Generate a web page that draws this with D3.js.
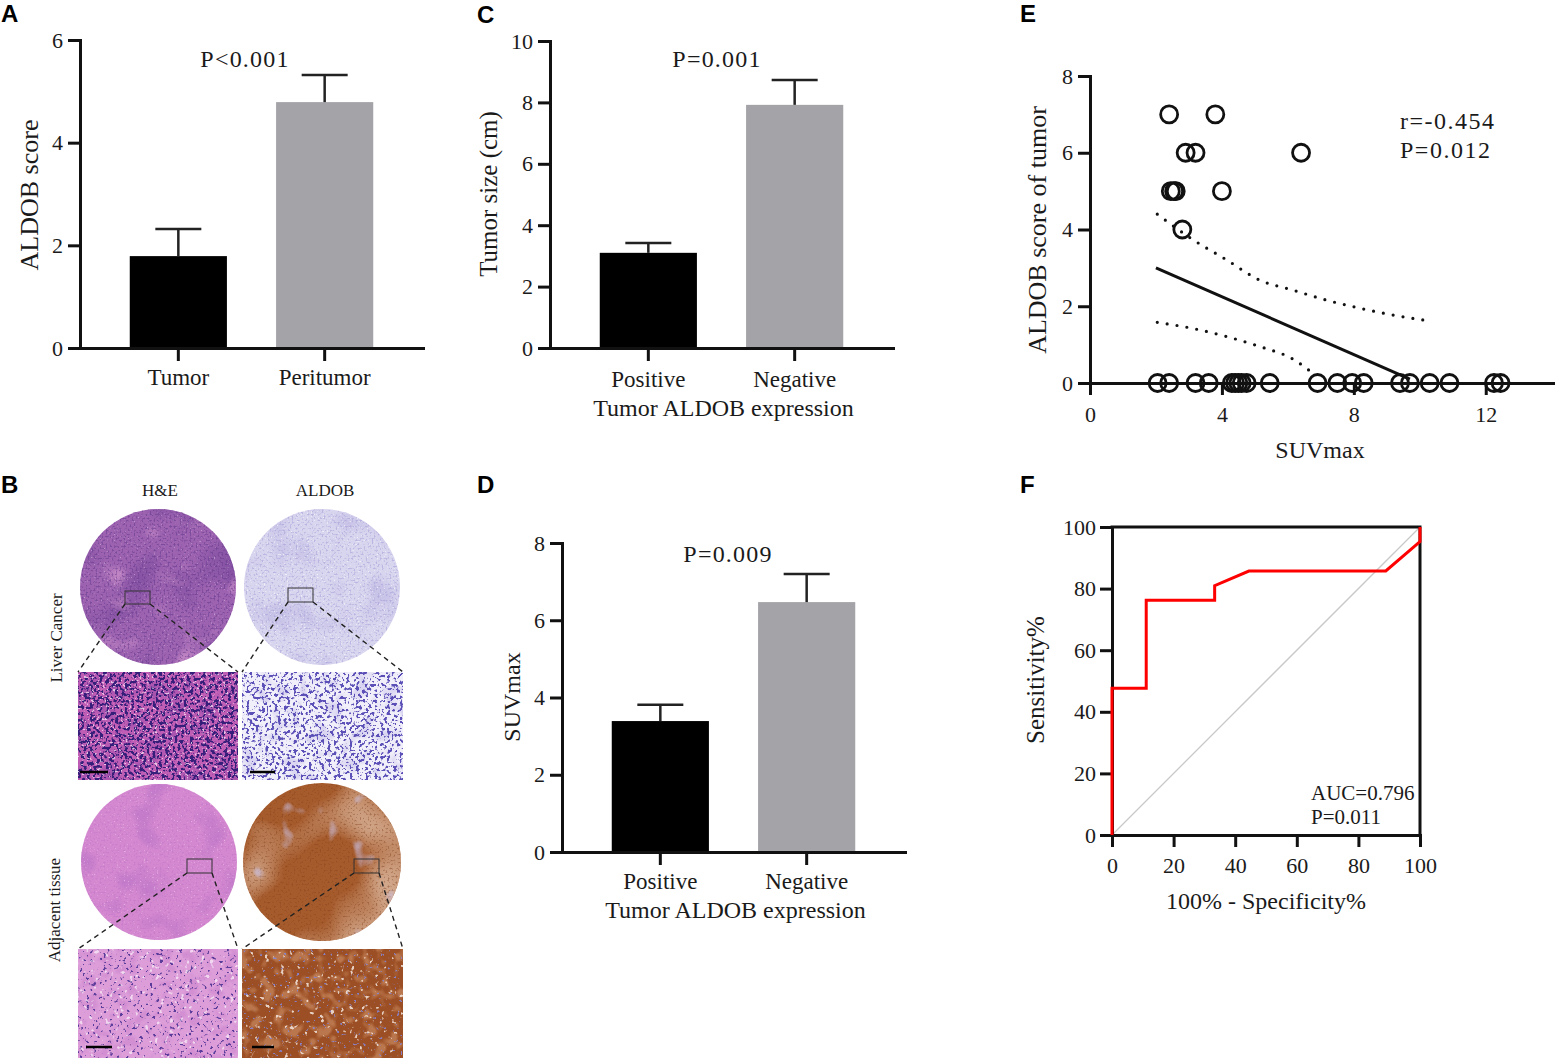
<!DOCTYPE html>
<html>
<head>
<meta charset="utf-8">
<script src="https://cdn.jsdelivr.net/npm/d3@7"></script>
<style>
  html, body { margin: 0; padding: 0; background: #fff; }
  svg text { font-family: "Liberation Serif", "Times New Roman", serif; fill: #1a1a1a; }
  .panel-label { font-family: "Liberation Sans", Arial, sans-serif; font-weight: bold; font-size: 24px; fill: #000; }
</style>
</head>
<body>
<svg id="fig" width="1555" height="1058"></svg>
<script>
// values
const groupsA = ["Tumor", "Peritumor"];
const meanA = [1.79, 4.79];
const semA = [0.53, 0.53];
const ticksA = [0, 2, 4, 6];

const groupsExpr = ["Positive", "Negative"];
const meanC = [3.1, 7.92];
const semC = [0.32, 0.81];
const ticksC = [0, 2, 4, 6, 8, 10];

const meanD = [3.39, 6.47];
const semD = [0.42, 0.73];
const ticksD = [0, 2, 4, 6, 8];

// panel E: SUVmax vs ALDOB score of tumor
const suvmax = [2.4, 3.8, 2.9, 3.2, 6.4, 2.45, 2.55, 2.6, 4.0, 2.8,
  2.05, 2.4, 3.2, 3.6, 4.3, 4.4, 4.5, 4.6, 4.75, 5.45, 6.9, 7.5, 7.95, 8.3, 9.4, 9.7, 10.3, 10.9, 12.25, 12.45];
const scoreE = [7, 7, 6, 6, 6, 5, 5, 5, 5, 4,
  0, 0, 0, 0, 0, 0, 0, 0, 0, 0, 0, 0, 0, 0, 0, 0, 0, 0, 0, 0];
const fitX = [2.0, 9.7];
const fitY = [3.0, 0.1];
const upperX = [2.04, 3.13, 4.14, 5.15, 6.16, 7.17, 8.18, 9.19, 10.28];
const upperY = [4.40, 3.73, 3.21, 2.68, 2.42, 2.16, 1.95, 1.77, 1.62];
const lowerX = [2.04, 3.13, 4.14, 5.15, 6.16, 6.82];
const lowerY = [1.58, 1.42, 1.21, 0.95, 0.62, 0.21];
const ticksEx = [0, 4, 8, 12];
const ticksEy = [0, 2, 4, 6, 8];

// panel F: ROC
const rocFpr = [0, 0, 11.11, 11.11, 33.33, 33.33, 44.44, 88.89, 100, 100];
const rocTpr = [0, 47.62, 47.62, 76.19, 76.19, 80.95, 85.71, 85.71, 95.24, 100];
const ticksF = [0, 20, 40, 60, 80, 100];

// panel B
const stains = ["H&E", "ALDOB"];
const tissues = ["Liver Cancer", "Adjacent tissue"];

const svg = d3.select("#fig");
const defs = svg.append("defs");
const fmt = d3.format("d");

function styleAxis(g, fs) {
  g.attr("font-family", null).attr("font-size", null);
  g.select(".domain").attr("stroke", "#111").attr("stroke-width", 3).attr("stroke-linecap", "square");
  g.selectAll(".tick line").attr("stroke", "#111").attr("stroke-width", 3);
  g.selectAll(".tick text").attr("font-size", fs || 22).attr("fill", "#222");
}

function yTitle(x, y, txt, fs) {
  svg.append("text")
    .attr("transform", "translate(" + x + "," + y + ") rotate(-90)")
    .attr("text-anchor", "middle")
    .attr("font-size", fs)
    .text(txt);
}

function drawBarPanel(p) {
  const g = svg.append("g");
  const y = d3.scaleLinear().domain([0, p.yMax]).range([p.bottom, p.top]);
  const x = d3.scaleBand().domain(p.groups).range([p.left, p.right]).paddingInner(0.336).paddingOuter(0.34);

  g.selectAll("rect.bar").data(p.means).join("rect")
    .attr("class", "bar")
    .attr("x", (d, i) => x(p.groups[i]))
    .attr("width", x.bandwidth())
    .attr("y", d => y(d))
    .attr("height", d => y(0) - y(d))
    .attr("fill", (d, i) => ["#000", "#a3a3a8"][i]);

  // error bars (mean + SEM)
  const eb = g.selectAll("g.err").data(p.means).join("g").attr("class", "err")
    .attr("transform", (d, i) => "translate(" + (x(p.groups[i]) + x.bandwidth() / 2) + ",0)");
  eb.append("line").attr("x1", 0).attr("x2", 0)
    .attr("y1", d => y(d)).attr("y2", (d, i) => y(d + p.sems[i]))
    .attr("stroke", "#222").attr("stroke-width", 2.5);
  eb.append("line").attr("x1", -23).attr("x2", 23)
    .attr("y1", (d, i) => y(d + p.sems[i])).attr("y2", (d, i) => y(d + p.sems[i]))
    .attr("stroke", "#222").attr("stroke-width", 2.5);

  const ya = g.append("g").attr("transform", "translate(" + p.left + ",0)")
    .call(d3.axisLeft(y).tickValues(p.ticks).tickFormat(fmt).tickSize(12).tickSizeOuter(0).tickPadding(5));
  styleAxis(ya, 22);
  const xa = g.append("g").attr("transform", "translate(0," + p.bottom + ")")
    .call(d3.axisBottom(x).tickSize(13).tickSizeOuter(0).tickFormat(""));
  styleAxis(xa);

  g.selectAll("text.cat").data(p.groups).join("text").attr("class", "cat")
    .attr("x", d => x(d) + x.bandwidth() / 2)
    .attr("y", p.catY)
    .attr("text-anchor", "middle")
    .attr("font-size", 23)
    .text(d => d);

  g.append("text").attr("x", p.pX).attr("y", p.pY).attr("text-anchor", "middle")
    .attr("font-size", 24).attr("letter-spacing", 1.2).text(p.pText);

  if (p.xTitle) {
    g.append("text").attr("x", (p.left + p.right) / 2 + 2).attr("y", p.xTitleY)
      .attr("text-anchor", "middle").attr("font-size", 24).text(p.xTitle);
  }
  yTitle(p.yTitleX, p.yTitleY, p.yTitle, p.yTitleFs);
}

// ---- A ----
drawBarPanel({
  groups: groupsA, means: meanA, sems: semA, ticks: ticksA, yMax: 6,
  left: 80, right: 423, top: 40, bottom: 348, catY: 385,
  pText: "P<0.001", pX: 245, pY: 67,
  yTitle: "ALDOB score", yTitleX: 38, yTitleY: 195, yTitleFs: 26
});

// ---- C ----
drawBarPanel({
  groups: groupsExpr, means: meanC, sems: semC, ticks: ticksC, yMax: 10,
  left: 550, right: 893, top: 41, bottom: 348, catY: 387,
  pText: "P=0.001", pX: 717, pY: 67,
  xTitle: "Tumor ALDOB expression", xTitleY: 416,
  yTitle: "Tumor size (cm)", yTitleX: 497, yTitleY: 194, yTitleFs: 25
});

// ---- D ----
drawBarPanel({
  groups: groupsExpr, means: meanD, sems: semD, ticks: ticksD, yMax: 8,
  left: 562, right: 905, top: 543, bottom: 852, catY: 889,
  pText: "P=0.009", pX: 728, pY: 562,
  xTitle: "Tumor ALDOB expression", xTitleY: 918,
  yTitle: "SUVmax", yTitleX: 520, yTitleY: 697, yTitleFs: 24
});

// ---- E: scatter with regression ----
(function () {
  const g = svg.append("g");
  const x = d3.scaleLinear().domain([0, 14.1]).range([1090, 1555]);
  const y = d3.scaleLinear().domain([0, 8]).range([383, 76]);

  const xa = g.append("g").attr("transform", "translate(0," + y(0) + ")")
    .call(d3.axisBottom(x).tickValues(ticksEx).tickFormat(fmt).tickSize(12).tickSizeOuter(0).tickPadding(11));
  styleAxis(xa, 22);
  const ya = g.append("g").attr("transform", "translate(" + x(0) + ",0)")
    .call(d3.axisLeft(y).tickValues(ticksEy).tickFormat(fmt).tickSize(12).tickSizeOuter(0).tickPadding(5));
  styleAxis(ya, 22);

  const line = d3.line().x(d => x(d[0])).y(d => y(d[1]));
  const smooth = d3.line().x(d => x(d[0])).y(d => y(d[1])).curve(d3.curveMonotoneX);

  [d3.zip(upperX, upperY), d3.zip(lowerX, lowerY)].forEach(function (band) {
    g.append("path").attr("d", smooth(band))
      .attr("fill", "none").attr("stroke", "#111").attr("stroke-width", 3.2)
      .attr("stroke-linecap", "round").attr("stroke-dasharray", "0 10");
  });
  g.append("path").attr("d", line(d3.zip(fitX, fitY)))
    .attr("fill", "none").attr("stroke", "#111").attr("stroke-width", 3);

  g.selectAll("circle.pt").data(d3.zip(suvmax, scoreE)).join("circle").attr("class", "pt")
    .attr("cx", d => x(d[0])).attr("cy", d => y(d[1])).attr("r", 8.5)
    .attr("fill", "none").attr("stroke", "#111").attr("stroke-width", 2.8);

  g.append("text").attr("x", 1400).attr("y", 129).attr("font-size", 24).attr("letter-spacing", 1.5).text("r=-0.454");
  g.append("text").attr("x", 1400).attr("y", 158).attr("font-size", 24).attr("letter-spacing", 1.5).text("P=0.012");

  g.append("text").attr("x", 1320).attr("y", 458).attr("text-anchor", "middle").attr("font-size", 24).text("SUVmax");
  yTitle(1046, 230, "ALDOB score of tumor", 26);
})();

// ---- F: ROC ----
(function () {
  const g = svg.append("g");
  const x = d3.scaleLinear().domain([0, 100]).range([1112, 1420]);
  const y = d3.scaleLinear().domain([0, 100]).range([835, 527]);

  g.append("line").attr("x1", x(0)).attr("y1", y(0)).attr("x2", x(100)).attr("y2", y(100))
    .attr("stroke", "#c8c8c8").attr("stroke-width", 1.3);

  // frame top / right
  g.append("path").attr("d", "M" + x(0) + "," + y(100) + "H" + x(100) + "V" + y(0))
    .attr("fill", "none").attr("stroke", "#111").attr("stroke-width", 3).attr("stroke-linecap", "square");

  const xa = g.append("g").attr("transform", "translate(0," + y(0) + ")")
    .call(d3.axisBottom(x).tickValues(ticksF).tickFormat(fmt).tickSize(12).tickSizeOuter(0).tickPadding(10));
  styleAxis(xa, 22);
  const ya = g.append("g").attr("transform", "translate(" + x(0) + ",0)")
    .call(d3.axisLeft(y).tickValues(ticksF).tickFormat(fmt).tickSize(12).tickSizeOuter(0).tickPadding(4));
  styleAxis(ya, 22);

  g.append("path").attr("d", d3.line().x(d => x(d[0])).y(d => y(d[1]))(d3.zip(rocFpr, rocTpr)))
    .attr("fill", "none").attr("stroke", "#f00").attr("stroke-width", 3).attr("stroke-linejoin", "miter");

  g.append("text").attr("x", 1311).attr("y", 800).attr("font-size", 21).text("AUC=0.796");
  g.append("text").attr("x", 1311).attr("y", 824).attr("font-size", 21).text("P=0.011");

  g.append("text").attr("x", 1266).attr("y", 909).attr("text-anchor", "middle").attr("font-size", 24).text("100% - Specificity%");
  yTitle(1044, 680, "Sensitivity%", 25);
})();

// ---- B: histology tiles (drawn textures) ----
function noiseFilter(id, freq, oct, seed, t, k, color) {
  const c = d3.rgb(color);
  const f = defs.append("filter").attr("id", id)
    .attr("x", 0).attr("y", 0).attr("width", 1).attr("height", 1)
    .attr("color-interpolation-filters", "sRGB");
  f.append("feTurbulence").attr("type", "fractalNoise").attr("baseFrequency", freq)
    .attr("numOctaves", oct).attr("seed", seed);
  f.append("feColorMatrix").attr("type", "matrix").attr("values",
    "0 0 0 0 " + (c.r / 255) + " 0 0 0 0 " + (c.g / 255) + " 0 0 0 0 " + (c.b / 255) + " " + k + " 0 0 0 " + (-k * t));
}

// [baseFrequency, octaves, seed, threshold, sharpness, colour, opacity]
const tiles = [
  { shape: "circle", cx: 158, cy: 587, r: 78, base: "#9d63b1",
    layers: [[0.02, 2, 2, 0.5, 4, "#7a4a9c", 0.6], [0.03, 2, 7, 0.57, 5, "#cf93cb", 0.75],
             [0.5, 2, 3, 0.5, 5, "#5e358a", 0.5], [0.7, 1, 9, 0.66, 8, "#f0d8ee", 0.45]] },
  { shape: "circle", cx: 322, cy: 587, r: 78, base: "#d8d5ef",
    layers: [[0.03, 2, 4, 0.52, 4, "#bfb9e3", 0.6], [0.5, 2, 5, 0.53, 5, "#a39bd5", 0.55],
             [0.7, 1, 11, 0.64, 8, "#ffffff", 0.6]] },
  { shape: "rect", x: 78, y: 672, w: 160, h: 108, base: "#c05db5",
    layers: [[0.06, 2, 6, 0.5, 5, "#8a4aa9", 0.45], [0.32, 2, 3, 0.5, 12, "#2f1b78", 0.95],
             [0.38, 2, 8, 0.64, 12, "#f6dcf2", 0.8]] },
  { shape: "rect", x: 242, y: 672, w: 161, h: 108, base: "#f1eff9",
    layers: [[0.07, 2, 12, 0.5, 5, "#cbc6ec", 0.6], [0.32, 2, 13, 0.54, 12, "#5448b4", 0.95]] },
  { shape: "circle", cx: 159, cy: 862, r: 78, base: "#d488d0",
    layers: [[0.03, 2, 14, 0.56, 5, "#b470c4", 0.45], [0.5, 2, 15, 0.54, 5, "#bd72c6", 0.5],
             [0.7, 1, 16, 0.66, 8, "#f4d8f2", 0.5]] },
  { shape: "circle", cx: 322, cy: 862, r: 79, base: "#a65b2c",
    layers: [[0.012, 2, 17, 0.46, 3, "#e6cbb8", 0.85], [0.5, 2, 18, 0.55, 5, "#84411d", 0.45],
             [0.04, 2, 19, 0.68, 8, "#cbc3e8", 0.7]] },
  { shape: "rect", x: 78, y: 949, w: 160, h: 109, base: "#dc9dd9",
    layers: [[0.08, 2, 20, 0.5, 5, "#cd86cd", 0.6], [0.3, 2, 21, 0.63, 12, "#553797", 0.95],
             [0.2, 2, 22, 0.66, 10, "#f7e7f6", 0.8]] },
  { shape: "rect", x: 242, y: 949, w: 161, h: 109, base: "#9c4f24",
    layers: [[0.08, 2, 23, 0.5, 5, "#c8875e", 0.7], [0.2, 2, 24, 0.67, 10, "#f3e6df", 0.85],
             [0.3, 2, 25, 0.69, 12, "#8686d6", 0.9]] }
];

tiles.forEach(function (t, ti) {
  const cid = "clip" + ti;
  const cp = defs.append("clipPath").attr("id", cid);
  let bx, by, bw, bh;
  if (t.shape === "circle") {
    cp.append("circle").attr("cx", t.cx).attr("cy", t.cy).attr("r", t.r);
    bx = t.cx - t.r; by = t.cy - t.r; bw = bh = 2 * t.r;
  } else {
    cp.append("rect").attr("x", t.x).attr("y", t.y).attr("width", t.w).attr("height", t.h);
    bx = t.x; by = t.y; bw = t.w; bh = t.h;
  }
  const g = svg.append("g").attr("clip-path", "url(#" + cid + ")");
  g.append("rect").attr("x", bx).attr("y", by).attr("width", bw).attr("height", bh).attr("fill", t.base);
  t.layers.forEach(function (l, li) {
    const fid = "nz" + ti + "_" + li;
    noiseFilter(fid, l[0], l[1], l[2], l[3], l[4], l[5]);
    g.append("rect").attr("x", bx).attr("y", by).attr("width", bw).attr("height", bh)
      .attr("filter", "url(#" + fid + ")").attr("opacity", l[6]);
  });
});

// selection boxes, zoom connectors, scale bars
const sel = [
  { x: 125, y: 591, w: 25, h: 13, zx: 78, zy: 672, zw: 160 },
  { x: 288, y: 588, w: 25, h: 14, zx: 242, zy: 672, zw: 161 },
  { x: 187, y: 859, w: 25, h: 14, zx: 78, zy: 949, zw: 160 },
  { x: 354, y: 859, w: 25, h: 14, zx: 242, zy: 949, zw: 161 }
];
sel.forEach(function (s) {
  svg.append("rect").attr("x", s.x).attr("y", s.y).attr("width", s.w).attr("height", s.h)
    .attr("fill", "none").attr("stroke", "#333").attr("stroke-width", 1);
  [[s.x, s.zx], [s.x + s.w, s.zx + s.zw]].forEach(function (p) {
    svg.append("line").attr("x1", p[0]).attr("y1", s.y + s.h).attr("x2", p[1]).attr("y2", s.zy)
      .attr("stroke", "#222").attr("stroke-width", 1.4).attr("stroke-dasharray", "5 4");
  });
});
[[80, 108, 772], [250, 275, 772], [86, 112, 1047], [252, 274, 1047]].forEach(function (b) {
  svg.append("line").attr("x1", b[0]).attr("x2", b[1]).attr("y1", b[2]).attr("y2", b[2])
    .attr("stroke", "#000").attr("stroke-width", 2.5);
});

svg.selectAll("text.stain").data(stains).join("text").attr("class", "stain")
  .attr("x", (d, i) => [160, 325][i]).attr("y", 496)
  .attr("text-anchor", "middle").attr("font-size", 17).text(d => d);
svg.selectAll("text.tissue").data(tissues).join("text").attr("class", "tissue")
  .attr("transform", (d, i) => "translate(" + [62, 60][i] + "," + [638, 910][i] + ") rotate(-90)")
  .attr("text-anchor", "middle").attr("font-size", 17).text(d => d);

// panel letters
[["A", 1, 22], ["C", 477, 23], ["E", 1020, 22], ["B", 1, 493], ["D", 477, 493], ["F", 1020, 493]]
  .forEach(function (l) {
    svg.append("text").attr("class", "panel-label").attr("x", l[1]).attr("y", l[2]).text(l[0]);
  });
</script>
</body>
</html>
